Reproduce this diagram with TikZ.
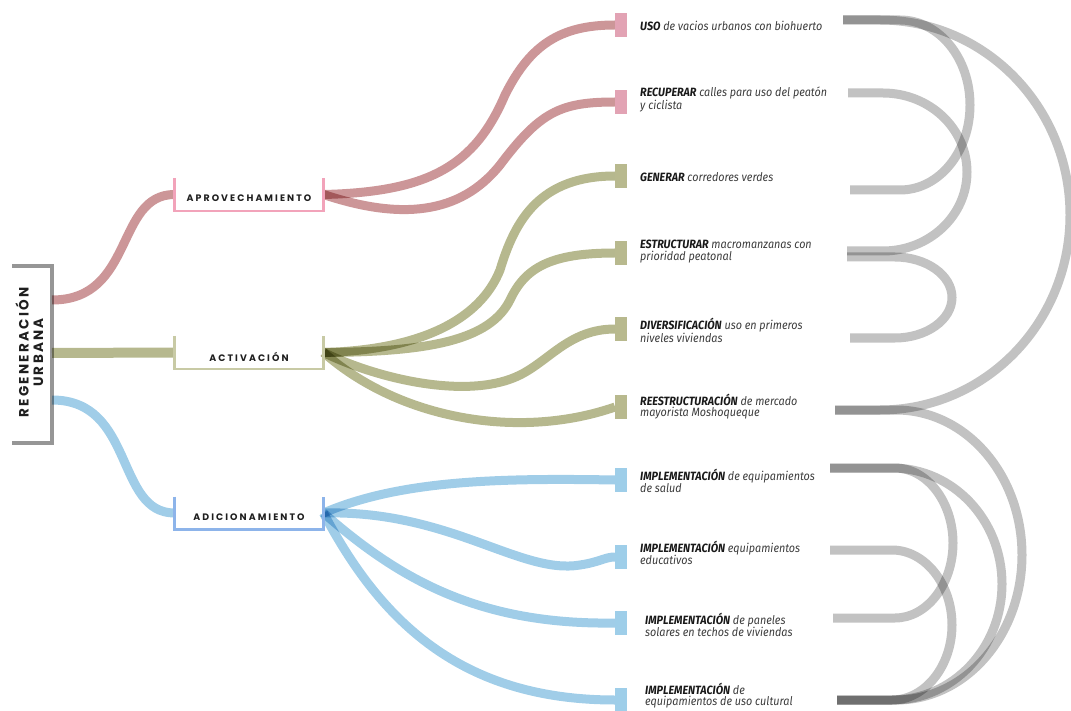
\documentclass[tikz,border=0pt]{standalone}
\usepackage{fontspec}
\setmainfont{Fira Sans}
\newfontfamily\popfont{Poppins}[LetterSpace=22]
\newfontfamily\rootfont{Poppins}[LetterSpace=17]
\newfontfamily\labfont{Fira Sans}[FakeStretch=0.9]
\usetikzlibrary{calc}
\definecolor{redline}{RGB}{204,150,152}
\definecolor{greenline}{RGB}{182,184,142}
\definecolor{blueline}{RGB}{160,205,232}
\definecolor{redterm}{RGB}{226,163,180}
\definecolor{greenterm}{RGB}{184,185,142}
\definecolor{blueterm}{RGB}{158,206,233}
\definecolor{redbr}{RGB}{242,163,186}
\definecolor{greenbr}{RGB}{200,202,165}
\definecolor{bluebr}{RGB}{141,180,234}
\definecolor{rootgray}{RGB}{150,150,150}
\definecolor{arcgray}{RGB}{194,194,194}
\definecolor{labtext}{RGB}{60,60,60}
\newcommand\twolab[3]{\vtop{\baselineskip=11.2pt\hbox{\textbf{\color{black!90}#1} #2}\hbox{#3}}}
\newcommand\onelab[2]{\textbf{\color{black!90}#1} #2}
\begin{document}
\begin{tikzpicture}[x=1pt,y=-1pt,
  conn/.style={line width=9pt, draw=#1, blend mode=multiply},
  garc/.style={line width=9pt, draw=arcgray, blend mode=multiply},
  term/.style={minimum width=12pt, minimum height=24pt, inner sep=0pt, outer sep=0pt, fill=#1},
  catbox/.style={minimum width=149pt, minimum height=33pt, inner sep=0pt, outer sep=0pt},
  catline/.style={line width=2.5pt, draw=#1},
  cattext/.style={font=\popfont\bfseries\fontsize{9.4}{11}\selectfont, text=black!88, inner sep=0pt},
  roottext/.style={font=\rootfont\bfseries\fontsize{13.5}{15}\selectfont, text=black!88, inner sep=0pt, rotate=90},
  lab/.style={anchor=base west, inner sep=0pt, font=\labfont\itshape\fontsize{12}{10}\selectfont, text=labtext}
]
\useasboundingbox (0,0) rectangle (1071,711);

% ---------- root ----------
\node[minimum width=40pt, minimum height=177pt, inner sep=0pt, outer sep=0pt] (root) at (32,354.5) {};
\draw[line width=4pt, draw=rootgray] (root.north west) -- (root.north east) -- (root.south east) -- (root.south west);
\node[roottext] (rt1) at (22,352.5) {REGENERACIÓN};
\node[roottext] (rt2) at (38.5,352.5) {URBANA};
\coordinate (rP) at (52,300);
\coordinate (gP) at (52,353);
\coordinate (bP) at (52,400);

% ---------- categories ----------
\node[catbox] (c1) at (249,194.5) {};
\node[catbox] (c2) at (249,352.5) {};
\node[catbox] (c3) at (249,513) {};

% ---------- terminals ----------
\node[term=redterm] (t1) at (621,25) {};
\node[term=redterm] (t2) at (621,102) {};
\node[term=greenterm] (t3) at (621,176) {};
\node[term=greenterm] (t4) at (621,253) {};
\node[term=greenterm] (t5) at (621,329) {};
\node[term=greenterm] (t6) at (621,407) {};
\node[term=blueterm] (t7) at (621,480) {};
\node[term=blueterm] (t8) at (621,557) {};
\node[term=blueterm] (t9) at (621,623) {};
\node[term=blueterm] (t10) at (621,700) {};

% ---------- connectors root -> categories ----------
\draw[conn=redline] (rP) .. controls (135,300) and (115,194.5) .. (c1.west);
\draw[conn=greenline, line width=10pt] (gP) -- (c2.west);
\draw[conn=blueline] (bP) .. controls (135,400) and (115,513) .. (c3.west);

% ---------- connectors categories -> terminals ----------
\draw[conn=redline] (c1.east) .. controls (430,192) and (475,165) .. (505,95) .. controls (530,45) and (560,25) .. (t1.west);
\draw[conn=redline] (c1.east) .. controls (400,220) and (460,215) .. (500,165) .. controls (540,112) and (560,102) .. (t2.west);

\draw[conn=greenline] (c2.east) .. controls (420,350) and (480,320) .. (500,270) .. controls (515,220) and (540,176) .. (t3.west);
\draw[conn=greenline] (c2.east) .. controls (430,352) and (490,340) .. (510,300) .. controls (525,268) and (550,253) .. (t4.west);
\draw[conn=greenline] (c2.east) .. controls (380,380) and (470,400) .. (520,375) .. controls (550,360) and (570,329) .. (t5.west);
\draw[conn=greenline] (c2.east) .. controls (400,420) and (520,440) .. (t6.west);

\draw[conn=blueline] (c3.east) .. controls (400,480) and (500,478) .. (t7.west);
\draw[conn=blueline] (c3.east) .. controls (450,510) and (520,575) .. (580,565) .. controls (600,562) and (605,557) .. (t8.west);
\draw[conn=blueline] (c3.east) .. controls (400,580) and (480,625) .. (t9.west);
\draw[conn=blueline] (c3.east) .. controls (380,620) and (460,700) .. (t10.west);

% redraw terminals on top
\foreach \n/\c in {t1/redterm,t2/redterm,t3/greenterm,t4/greenterm,t5/greenterm,t6/greenterm,t7/blueterm,t8/blueterm,t9/blueterm,t10/blueterm}
  \fill[\c] (\n.south west) rectangle (\n.north east);

% ---------- category brackets and texts ----------
\draw[catline=redbr] (c1.north west) -- (c1.south west) -- (c1.south east) -- (c1.north east);
\draw[catline=greenbr] (c2.north west) -- (c2.south west) -- (c2.south east) -- (c2.north east);
\draw[catline=bluebr] (c3.north west) -- (c3.south west) -- (c3.south east) -- (c3.north east);
\node[cattext] (c1t) at (249,198) {APROVECHAMIENTO};
\node[cattext] (c2t) at (249,357) {ACTIVACIÓN};
\node[cattext] (c3t) at (249,517) {ADICIONAMIENTO};

% ---------- labels ----------
\node[lab] (l1) at (640,31) {\onelab{USO}{de vacios urbanos con biohuerto}};
\node[lab] (l2) at (640,97) {\twolab{RECUPERAR}{calles para uso del peatón}{y ciclista}};
\node[lab] (l3) at (640,182) {\onelab{GENERAR}{corredores verdes}};
\node[lab] (l4) at (640,249) {\twolab{ESTRUCTURAR}{macromanzanas con}{prioridad peatonal}};
\node[lab] (l5) at (640,330) {\twolab{DIVERSIFICACIÓN}{uso en primeros}{niveles viviendas}};
\node[lab] (l6) at (640,405) {\twolab{REESTRUCTURACIÓN}{de mercado}{mayorista Moshoqueque}};
\node[lab] (l7) at (640,480) {\twolab{IMPLEMENTACIÓN}{de equipamientos}{de salud}};
\node[lab] (l8) at (640,552) {\twolab{IMPLEMENTACIÓN}{equipamientos}{educativos}};
\node[lab] (l9) at (645,624) {\twolab{IMPLEMENTACIÓN}{de paneles}{solares en techos de viviendas}};
\node[lab] (l10) at (645,694) {\twolab{IMPLEMENTACIÓN}{de}{equipamientos de uso cultural}};

% ---------- gray arc ports ----------
\coordinate (p1) at (843,20);
\coordinate (p2) at (848,93);
\coordinate (p3) at (850,190);
\coordinate (p4a) at (847,251);
\coordinate (p4b) at (847,257);
\coordinate (p5) at (850,338);
\coordinate (p6) at (835,410);
\coordinate (p7) at (830,468);
\coordinate (p8) at (830,550);
\coordinate (p9) at (833,618);
\coordinate (p10) at (837,700);

% ---------- gray arcs ----------
\draw[garc] (p1) -- (880,20) .. controls (985,20) and (1070,107) .. (1070,215) .. controls (1070,323) and (985,410) .. (880,410) -- (p6);
\draw[garc] (p1) -- (900,20) .. controls (939,20) and (970,58) .. (970,105) .. controls (970,152) and (939,190) .. (900,190) -- (p3);
\draw[garc] (p2) -- (883,93) .. controls (929,93) and (967,128) .. (967,172) .. controls (967,216) and (929,251) .. (883,251) -- (p4a);
\draw[garc] (p4b) -- (895,257) .. controls (926,257) and (952,275) .. (952,297.5) .. controls (952,320) and (926,338) .. (895,338) -- (p5);
\draw[garc] (p6) -- (896,410) .. controls (966,410) and (1022,475) .. (1022,555) .. controls (1022,635) and (966,700) .. (896,700) -- (p10);
\draw[garc] (p7) -- (895,468) .. controls (927,468) and (953,502) .. (953,543) .. controls (953,584) and (927,618) .. (895,618) -- (p9);
\draw[garc] (p7) -- (892,468) .. controls (953,468) and (1002,520) .. (1002,584) .. controls (1002,648) and (953,700) .. (892,700) -- (p10);
\draw[garc] (p8) -- (892,550) .. controls (925,550) and (952,584) .. (952,625) .. controls (952,666) and (925,700) .. (892,700) -- (p10);
\end{tikzpicture}
\end{document}
